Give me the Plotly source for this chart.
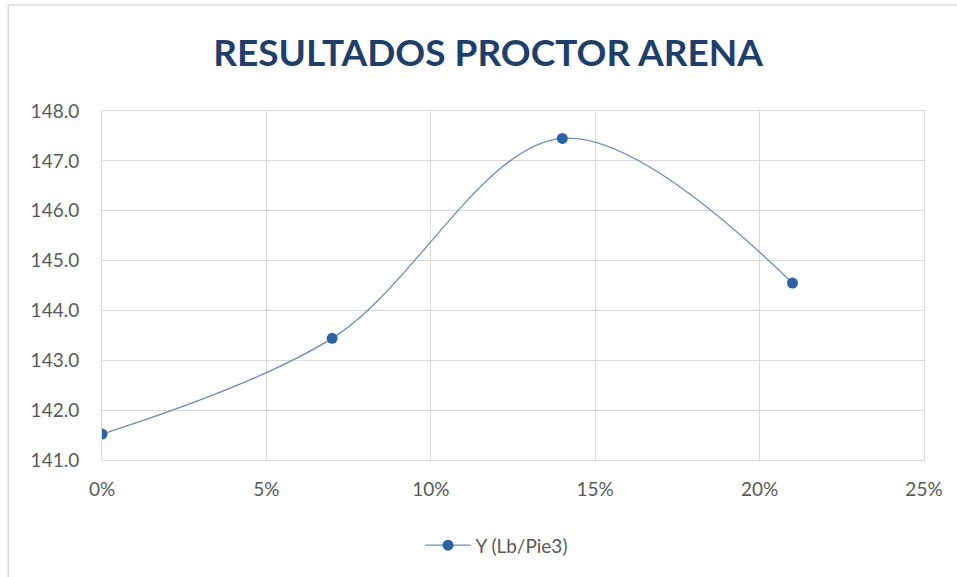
import plotly.graph_objects as go

# Proctor test results for sand: moisture content vs. dry unit weight
humedad = [0.00, 0.07, 0.14, 0.21]
peso_unitario = [141.52, 143.44, 147.45, 144.55]
serie = "Y (Lb/Pie3)"
titulo = "RESULTADOS PROCTOR ARENA"

x_ticks = [0.00, 0.05, 0.10, 0.15, 0.20, 0.25]
y_ticks = [141.0, 142.0, 143.0, 144.0, 145.0, 146.0, 147.0, 148.0]

fig = go.Figure()
fig.add_trace(go.Scatter(
    x=humedad,
    y=peso_unitario,
    mode="lines+markers",
    name=serie,
    line=dict(shape="spline", smoothing=1.0, color="#6E8DB8", width=1.3),
    marker=dict(size=11, color="#2E62A6"),
))

font_family = "Lato, 'Open Sans', sans-serif"
grid_color = "#D9D9D9"
text_color = "#595959"

fig.update_layout(
    width=957,
    height=577,
    paper_bgcolor="white",
    plot_bgcolor="white",
    margin=dict(l=102, r=33, t=111, b=117),
    title=dict(
        text="<b>" + titulo + "</b>",
        x=0.51,
        xanchor="center",
        y=0.908,
        yanchor="middle",
        font=dict(family=font_family, size=37, color="#1F3F6B"),
    ),
    showlegend=True,
    legend=dict(
        orientation="h",
        x=0.48,
        xanchor="center",
        y=-0.19,
        yanchor="top",
        itemwidth=45,
        font=dict(family=font_family, size=19, color=text_color),
    ),
    xaxis=dict(
        range=[0, 0.25],
        tickvals=x_ticks,
        tickformat=".0%",
        showgrid=True,
        gridcolor=grid_color,
        gridwidth=1,
        zeroline=False,
        showline=True,
        linecolor=grid_color,
        mirror=True,
        ticks="",
        ticklabelstandoff=12,
        tickfont=dict(family=font_family, size=19, color=text_color),
    ),
    yaxis=dict(
        range=[141.0, 148.0],
        tickvals=y_ticks,
        tickformat=".1f",
        showgrid=True,
        gridcolor=grid_color,
        gridwidth=1,
        zeroline=False,
        showline=True,
        linecolor=grid_color,
        mirror=True,
        ticks="",
        ticklabelstandoff=18,
        tickfont=dict(family=font_family, size=19, color=text_color),
    ),
    shapes=[
        dict(
            type="rect",
            xref="paper",
            yref="paper",
            x0=-0.114,
            x1=1.2,
            y0=-0.4,
            y1=1.304,
            line=dict(color="#D9D9D9", width=1.5),
            fillcolor="rgba(0,0,0,0)",
            layer="below",
        )
    ],
)

fig.write_html("out.html")
